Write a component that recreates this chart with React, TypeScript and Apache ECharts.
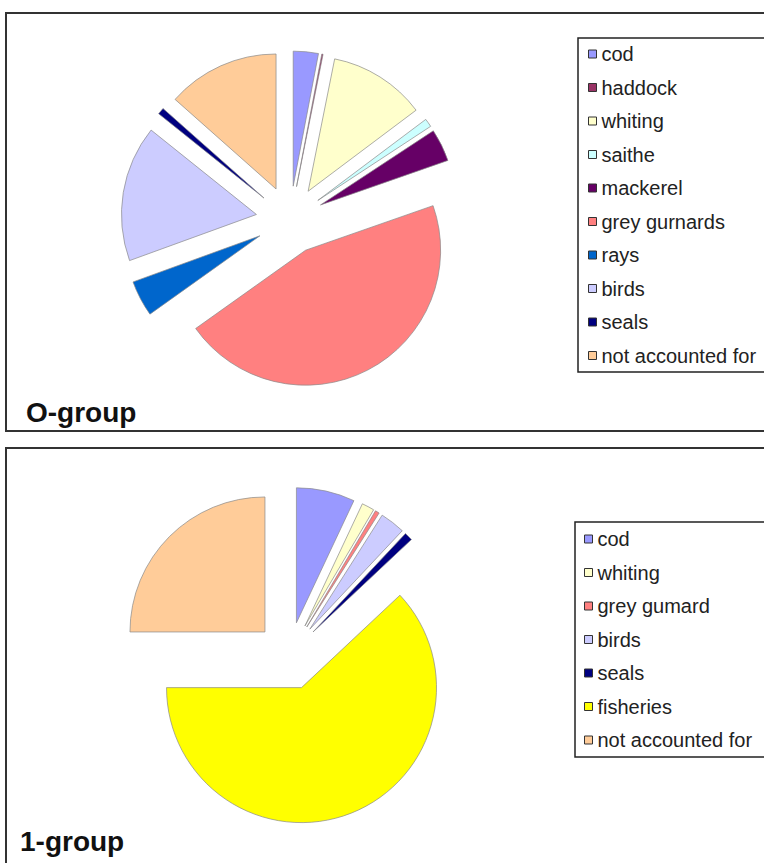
import React, { useEffect, useRef } from "react";
import * as echarts from "echarts";

// O-group (top chart)
const topNames = ["cod", "haddock", "whiting", "saithe", "mackerel", "grey gurnards", "rays", "birds", "seals", "not accounted for"];
const topValues = [3.0, 0.15, 11.6, 1.0, 3.9, 45.5, 4.3, 16.3, 0.8, 13.45];
const topColors = ["#9999FF", "#993366", "#FFFFCC", "#CCFFFF", "#660066", "#FF8080", "#0066CC", "#CCCCFF", "#000080", "#FFCC99"];

// 1-group (bottom chart)
const botNames = ["cod", "whiting", "grey gumard", "birds", "seals", "fisheries", "not accounted for"];
const botValues = [7.0, 1.5, 0.5, 3.0, 1.0, 62.0, 25.0];
const botColors = ["#9999FF", "#FFFFCC", "#FF8080", "#CCCCFF", "#000080", "#FFFF00", "#FFCC99"];

const titles = ["O-group", "1-group"];

const FONT = "'Liberation Sans', Arial, sans-serif";

function makeData(names: string[], values: number[], colors: string[]) {
  return names.map((n, i) => ({
    name: n,
    value: values[i],
    selected: true,
    itemStyle: { color: colors[i], borderColor: "#8a8a8a", borderWidth: 0.7 },
    select: { itemStyle: { color: colors[i], borderColor: "#8a8a8a", borderWidth: 0.7 } },
  }));
}

export default function App() {
  const ref = useRef<HTMLDivElement>(null);
  useEffect(() => {
    if (!ref.current) return;
    const chart = echarts.init(ref.current, undefined, { renderer: "svg" });
    const pieCommon = {
      type: "pie",
      radius: 135,
      startAngle: 90,
      clockwise: true,
      selectedMode: "multiple",
      selectedOffset: 34,
      label: { show: false },
      labelLine: { show: false },
      emphasis: { disabled: true },
      silent: true,
    };
    const legendCommon = {
      orient: "vertical",
      icon: "rect",
      itemWidth: 8,
      itemHeight: 8,
      itemGap: 13.5,
      padding: 0,
      selectedMode: false,
      itemStyle: { borderColor: "#333", borderWidth: 1 },
      textStyle: { fontFamily: FONT, fontSize: 20, color: "#222", lineHeight: 20 },
    };
    chart.setOption({
      animation: false,
      backgroundColor: "#ffffff",
      graphic: [
        { type: "rect", z: 100, shape: { x: 6, y: 13, width: 900, height: 418 }, style: { fill: "none", stroke: "#333", lineWidth: 2 } },
        { type: "rect", z: 100, shape: { x: 6, y: 448, width: 900, height: 500 }, style: { fill: "none", stroke: "#333", lineWidth: 2 } },
        { type: "rect", z: 100, shape: { x: 578, y: 38, width: 300, height: 334 }, style: { fill: "none", stroke: "#222", lineWidth: 1.5 } },
        { type: "rect", z: 100, shape: { x: 575, y: 522, width: 300, height: 235 }, style: { fill: "none", stroke: "#222", lineWidth: 1.5 } },
        { type: "text", z: 100, x: 26, y: 412, style: { text: titles[0], font: `bold 28px ${FONT}`, fill: "#111", verticalAlign: "middle" } },
        { type: "text", z: 100, x: 20, y: 841, style: { text: titles[1], font: `bold 28px ${FONT}`, fill: "#111", verticalAlign: "middle" } },
      ],
      legend: [
        { ...legendCommon, left: 588, top: 44, data: topNames },
        { ...legendCommon, left: 584, top: 529, data: botNames },
      ],
      series: [
        { ...pieCommon, name: "O-group", center: [290, 220], data: makeData(topNames, topValues, topColors) },
        { ...pieCommon, name: "1-group", center: [289, 656], data: makeData(botNames, botValues, botColors) },
      ],
    });
    return () => chart.dispose();
  }, []);
  return <div ref={ref} style={{ position: "fixed", left: 0, top: 0, width: 764, height: 863 }} />;
}
